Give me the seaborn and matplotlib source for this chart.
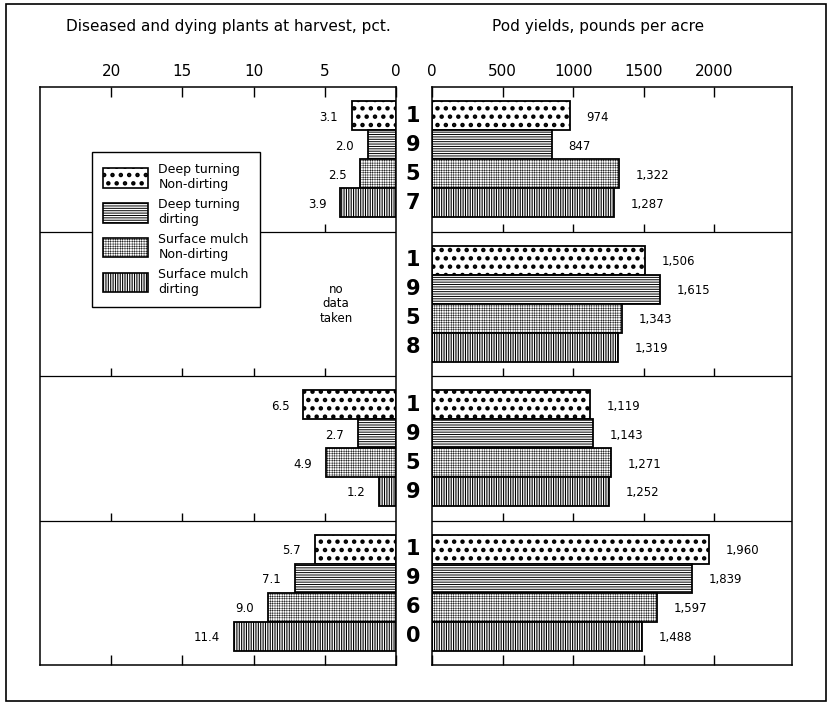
import numpy as np
import pandas as pd
import matplotlib
matplotlib.use('Agg')
import matplotlib.pyplot as plt
from matplotlib.patches import Patch, Rectangle
from matplotlib.transforms import blended_transform_factory
import seaborn as sns

# Data ------------------------------------------------------------------------

years = ['1957', '1958', '1959', '1960']
treatments = ['Deep turning\nNon-dirting', 'Deep turning\ndirting',
              'Surface mulch\nNon-dirting', 'Surface mulch\ndirting']

# diseased and dying plants at harvest, pct. (no data taken in 1958)
diseased_deep_nondirt = [3.1, np.nan, 6.5, 5.7]
diseased_deep_dirt = [2.0, np.nan, 2.7, 7.1]
diseased_mulch_nondirt = [2.5, np.nan, 4.9, 9.0]
diseased_mulch_dirt = [3.9, np.nan, 1.2, 11.4]

# pod yields, pounds per acre
yield_deep_nondirt = [974, 1506, 1119, 1960]
yield_deep_dirt = [847, 1615, 1143, 1839]
yield_mulch_nondirt = [1322, 1343, 1271, 1597]
yield_mulch_dirt = [1287, 1319, 1252, 1488]

left_ticks = [0, 5, 10, 15, 20]
right_ticks = [0, 500, 1000, 1500, 2000]

diseased = [diseased_deep_nondirt, diseased_deep_dirt,
            diseased_mulch_nondirt, diseased_mulch_dirt]
yields = [yield_deep_nondirt, yield_deep_dirt,
          yield_mulch_nondirt, yield_mulch_dirt]

rows = []
for t, dis, yl in zip(treatments, diseased, yields):
    for yr, d, y in zip(years, dis, yl):
        rows.append({'year': yr, 'treatment': t, 'diseased': d, 'yield': y})
df = pd.DataFrame(rows)

# hatch pattern and hatch line width for each treatment
hatches = ['..', '-------', '+++++++', '|||||||']
hatch_lw = [2.0, 0.7, 0.3, 0.8]

# Plot ------------------------------------------------------------------------

sns.set_style('white')
plt.rcParams['font.family'] = ['DejaVu Sans']
plt.rcParams['hatch.linewidth'] = 0.7
plt.rcParams['text.color'] = 'black'
plt.rcParams['xtick.color'] = 'black'


def style_patch(p, h, lw):
    p.set_facecolor('white')
    p.set_edgecolor('black')
    p.set_hatch(h)
    if hasattr(p, 'set_hatch_linewidth'):
        p.set_hatch_linewidth(lw)


fig = plt.figure(figsize=(8.29, 7.04), dpi=100)
ax1 = fig.add_axes([0.0483, 0.0554, 0.4294, 0.821])
ax2 = fig.add_axes([0.5211, 0.0554, 0.4343, 0.821])

sns.barplot(data=df.dropna(subset=['diseased']), y='year', x='diseased',
            hue='treatment', hue_order=treatments, order=years, orient='h',
            ax=ax1, legend=False, width=0.8, saturation=1)
sns.barplot(data=df, y='year', x='yield', hue='treatment',
            hue_order=treatments, order=years, orient='h',
            ax=ax2, legend=False, width=0.8, saturation=1)

for ax in (ax1, ax2):
    for cont, h, lw in zip(ax.containers, hatches, hatch_lw):
        for bar in cont:
            style_patch(bar, h, lw)
            bar.set_linewidth(1.3)

# value labels next to the bar ends
for cont in ax1.containers:
    for bar in cont:
        w = bar.get_width()
        yc = bar.get_y() + bar.get_height() / 2
        ax1.annotate(f'{w:.1f}', (w, yc), xytext=(-10, -1),
                     textcoords='offset points', ha='right', va='center',
                     fontsize=8.5)
for cont in ax2.containers:
    for bar in cont:
        w = bar.get_width()
        yc = bar.get_y() + bar.get_height() / 2
        ax2.annotate(f'{w:,.0f}', (w, yc), xytext=(12, -1),
                     textcoords='offset points', ha='left', va='center',
                     fontsize=8.5)

ax1.set_xlim(25, 0)
ax2.set_xlim(0, 2550)
for ax, ticks in ((ax1, left_ticks), (ax2, right_ticks)):
    ax.set_ylim(3.5, -0.5)
    ax.set_xticks(ticks)
    ax.xaxis.tick_top()
    ax.tick_params(axis='x', which='both', top=True, bottom=True,
                   labeltop=True, labelbottom=False, direction='in',
                   length=7, width=1, labelsize=11, pad=6)
    ax.set_yticks([])
    ax.set_xlabel('')
    ax.set_ylabel('')
    for s in ax.spines.values():
        s.set_visible(True)
        s.set_color('black')
        s.set_linewidth(1.1)
    # separators between years, with ticks rising from them
    for sep in (0.5, 1.5, 2.5):
        ax.axhline(sep, color='black', lw=0.9)
        ax.vlines(ticks[1:], sep - 0.055, sep, color='black', lw=1)

fig.text(0.275, 0.962, 'Diseased and dying plants at harvest, pct.',
         ha='center', va='center', fontsize=11)
fig.text(0.722, 0.962, 'Pod yields, pounds per acre',
         ha='center', va='center', fontsize=11)

# year digits stacked between the panels
trans = blended_transform_factory(ax2.transAxes, ax2.transData)
offsets = [-0.3, -0.1, 0.1, 0.3]
for i, yr in enumerate(years):
    for digit, off in zip(yr, offsets):
        ax2.text(-0.053, i + off, digit, transform=trans, ha='center',
                 va='center', fontsize=15, fontweight='bold', clip_on=False)

ax1.text(4.2, 1.0, 'no\ndata\ntaken', ha='center', va='center', fontsize=8.5,
         linespacing=1.15)

handles = []
for h, t, lw in zip(hatches, treatments, hatch_lw):
    p = Patch(label=t, linewidth=1.2)
    style_patch(p, h, lw)
    handles.append(p)
leg = ax1.legend(handles=handles, loc='upper left',
                 bbox_to_anchor=(0.146, 0.888), borderaxespad=0,
                 fontsize=9, frameon=True, fancybox=False, edgecolor='black',
                 handlelength=3.6, handleheight=2.0, labelspacing=0.55,
                 borderpad=0.9, handletextpad=0.8)
leg.get_frame().set_linewidth(1)
leg.get_frame().set_alpha(1)
for p, h, lw in zip(leg.get_patches(), hatches, hatch_lw):
    style_patch(p, h, lw)

fig.patches.append(Rectangle((0.007, 0.004), 0.989, 0.99,
                             transform=fig.transFigure, fill=False,
                             edgecolor='black', lw=1.2))

fig.savefig('out.png', dpi=100)
